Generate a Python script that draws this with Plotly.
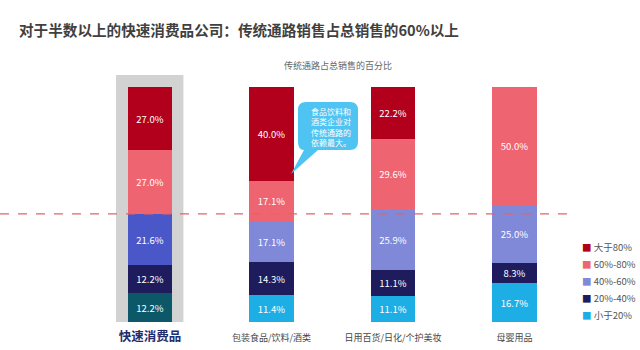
import plotly.graph_objects as go

# ---------------- data ----------------
categories = ["快速消费品", "包装食品/饮料/酒类", "日用百货/日化/个护美妆", "母婴用品"]
series_names = ["小于20%", "20%-40%", "40%-60%", "60%-80%", "大于80%"]  # bottom -> top
share_lt20 = [12.2, 11.4, 11.1, 16.7]
share_20_40 = [12.2, 14.3, 11.1, 8.3]
share_40_60 = [21.6, 17.1, 25.9, 25.0]
share_60_80 = [27.0, 17.1, 29.6, 50.0]
share_gt80 = [27.0, 40.0, 22.2, 0.0]
series_values = [share_lt20, share_20_40, share_40_60, share_60_80, share_gt80]
threshold = 46.0  # dashed reference line

title_text = "对于半数以上的快速消费品公司：传统通路销售占总销售的60%以上"
subtitle_text = "传统通路占总销售的百分比"
callout_text = "食品饮料和<br>酒类企业对<br>传统通路的<br>依赖最大。"

# ---------------- styles ----------------
FONT = "Noto Sans CJK SC"
colors = ["#1eaee6", "#1e1c5c", "#8088d8", "#ee6470", "#b2001c"]
first_bar_colors = ["#0d5868", "#1e1c5c", "#4a57c8", "#ee6470", "#b2001c"]

W, H = 640, 350
ML, MR, MT, MB = 0, 0, 60, 28
PLOT_H = H - MT - MB
PX_PER_CAT = 121.5
FIRST_CENTER_PX = 150
PX_PER_PCT = 2.35

x_idx = list(range(len(categories)))
x0 = -FIRST_CENTER_PX / PX_PER_CAT
x_range = [x0, x0 + (W - ML - MR) / PX_PER_CAT]
y_range = [0, PLOT_H / PX_PER_PCT]


def px_to_paper(px, py):
    return (px - ML) / (W - ML - MR), (H - MB - py) / PLOT_H


fig = go.Figure()
for i, (name, vals) in enumerate(zip(series_names, series_values)):
    cols = [first_bar_colors[i]] + [colors[i]] * (len(vals) - 1)
    fig.add_trace(go.Bar(
        x=x_idx, y=vals, name=name, width=0.37,
        marker=dict(color=cols, line=dict(width=0)),
        text=[f"{v:.1f}%" if v > 0 else "" for v in vals],
        textposition="inside", insidetextanchor="middle",
        textfont=dict(family=FONT, size=9.5, color="#ffffff"),
        constraintext="none", showlegend=False, hoverinfo="skip",
    ))

shapes = []
# grey highlight behind first bar
shapes.append(dict(type="rect", xref="x", yref="y", x0=-0.28, x1=0.275, y0=0, y1=105.1,
                   fillcolor="#d2d2d2", line=dict(width=0), layer="below"))
# dashed threshold line
shapes.append(dict(type="line", xref="paper", yref="y", x0=0, x1=575 / W, y0=threshold, y1=threshold,
                   line=dict(color="#e06666", width=1.1, dash="dash"), layer="above"))

# speech bubble callout
pts = [("M", 306, 102), ("L", 350, 102), ("Q", 358, 102, 358, 110), ("L", 358, 142),
       ("Q", 358, 150, 350, 150), ("L", 318, 150), ("L", 291, 174), ("L", 304, 150),
       ("Q", 298, 150, 298, 142), ("L", 298, 110), ("Q", 298, 102, 306, 102)]
path = ""
for p in pts:
    cmd = p[0]
    coords = p[1:]
    segs = []
    for k in range(0, len(coords), 2):
        ax, ay = px_to_paper(coords[k], coords[k + 1])
        segs.append(f"{ax:.5f},{ay:.5f}")
    path += cmd + " ".join(segs) + " "
path += "Z"
shapes.append(dict(type="path", xref="paper", yref="paper", path=path,
                   fillcolor="#4fc3f2", line=dict(width=0), layer="above"))

annotations = []
tx, ty = px_to_paper(17, 30)
annotations.append(dict(x=tx, y=ty, xref="paper", yref="paper", text=f"<b>{title_text}</b>",
                        showarrow=False, xanchor="left", yanchor="middle",
                        font=dict(family=FONT, size=14.6, color="#404040")))
sx, sy = px_to_paper(338, 65)
annotations.append(dict(x=sx, y=sy, xref="paper", yref="paper", text=subtitle_text,
                        showarrow=False, xanchor="center", yanchor="middle",
                        font=dict(family=FONT, size=9, color="#666666")))
cx, cy = px_to_paper(309, 127)
annotations.append(dict(x=cx, y=cy, xref="paper", yref="paper", text=callout_text,
                        showarrow=False, xanchor="left", yanchor="middle", align="left",
                        font=dict(family=FONT, size=8, color="#ffffff")))

# legend (top item first)
legend_y_px = [247, 264, 281, 298, 315]
for j, (name, col) in enumerate(zip(reversed(series_names), reversed(colors))):
    lx, ly = px_to_paper(580, legend_y_px[j])
    annotations.append(dict(x=lx, y=ly, xref="paper", yref="paper",
                            text=f"<span style='color:{col}'>■</span> {name}",
                            showarrow=False, xanchor="left", yanchor="middle",
                            font=dict(family=FONT, size=9.5, color="#555555")))

tick_text = [f"<b><span style='color:#1f2d6e;font-size:12.5px'>{categories[0]}</span></b>"] + categories[1:]

fig.update_layout(
    width=W, height=H, margin=dict(l=ML, r=MR, t=MT, b=MB),
    barmode="stack", bargap=0,
    plot_bgcolor="#ffffff", paper_bgcolor="#ffffff",
    font=dict(family=FONT, color="#444444"),
    showlegend=False,
    uniformtext=dict(mode="show", minsize=9),
    xaxis=dict(range=x_range, tickvals=x_idx, ticktext=tick_text, showgrid=False, zeroline=False,
               showline=False, ticks="", tickfont=dict(family=FONT, size=9, color="#444444"),
               ticklabelstandoff=9, fixedrange=True),
    yaxis=dict(range=y_range, visible=False, showgrid=False, zeroline=False, fixedrange=True),
    shapes=shapes, annotations=annotations,
)

fig.write_html("out.html")
